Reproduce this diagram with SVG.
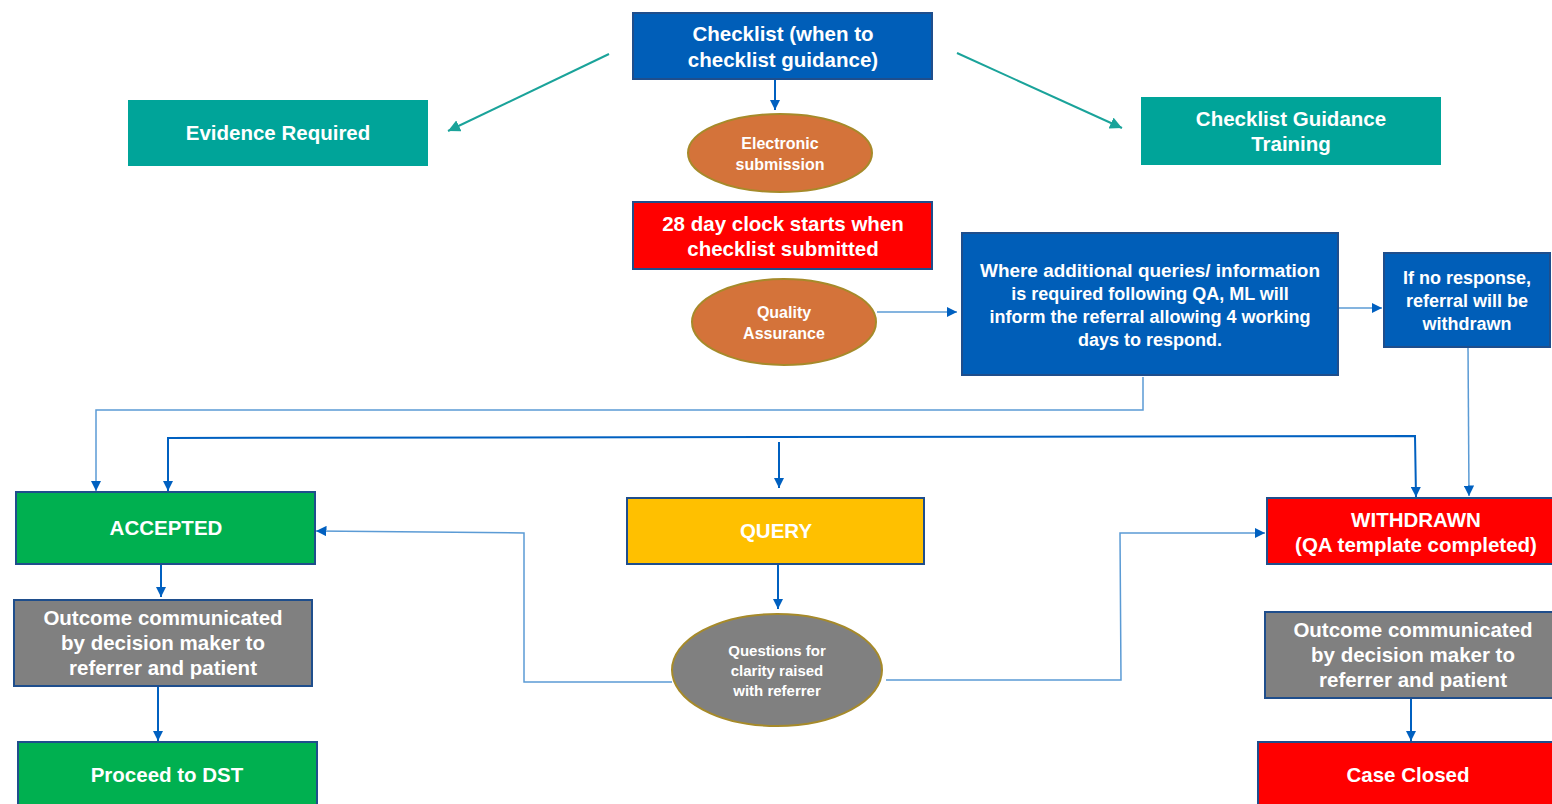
<svg xmlns="http://www.w3.org/2000/svg" width="1552" height="804" viewBox="0 0 1552 804">
<style>
text{font-family:"Liberation Sans",Arial,sans-serif;font-weight:bold;fill:#fff;text-anchor:middle}
.t20{font-size:20.5px}
.t18{font-size:18px}
.t15{font-size:15px}
.t16{font-size:16px}
.box{stroke:#1F4E8C;stroke-width:2}
.blue{fill:#005EB8}
.teal{fill:#00A499}
.red{fill:#FF0000}
.green{fill:#00B050}
.gray{fill:#808080}
.amber{fill:#FFC000}
.ell{stroke:#A68A2A;stroke-width:2}
.orange{fill:#D4733A}
.c{fill:none;stroke:#0060C0;stroke-width:2}
.c1{fill:none;stroke:#5B9BD5;stroke-width:1.5}
.ct{fill:none;stroke:#1AA39A;stroke-width:2}
</style>
<defs>
<marker id="ab" viewBox="0 0 10 10" refX="10" refY="5" markerWidth="5" markerHeight="5" orient="auto-start-reverse" markerUnits="strokeWidth"><path d="M0,0L10,5L0,10z" fill="#0060C0"/></marker>
<marker id="ab1" viewBox="0 0 10 10" refX="10" refY="5" markerWidth="7" markerHeight="7" orient="auto" markerUnits="strokeWidth"><path d="M0,0L10,5L0,10z" fill="#0060C0"/></marker>
<marker id="at" viewBox="0 0 10 10" refX="10" refY="5" markerWidth="6" markerHeight="6" orient="auto" markerUnits="strokeWidth"><path d="M0,0L10,5L0,10z" fill="#1AA39A"/></marker>
</defs>
<g id="connectors">
<line class="ct" x1="609" y1="54" x2="448" y2="131" marker-end="url(#at)"/>
<line class="ct" x1="957" y1="53" x2="1122" y2="128" marker-end="url(#at)"/>
<line class="c" x1="775" y1="79" x2="775" y2="110" marker-end="url(#ab)"/>
<line class="c1" x1="877" y1="312" x2="957" y2="312" marker-end="url(#ab1)"/>
<line class="c1" x1="1338" y1="308" x2="1382" y2="308" marker-end="url(#ab1)"/>
<polyline class="c1" points="1468,347 1469,496" marker-end="url(#ab1)"/>
<polyline class="c1" points="1143,377 1143,410 96,410 96,491" marker-end="url(#ab1)"/>
<polyline class="c" points="168,491 168,438 1415,436 1416,497" marker-start="url(#ab)" marker-end="url(#ab)"/>
<line class="c" x1="779" y1="442" x2="779" y2="488" marker-end="url(#ab)"/>
<line class="c" x1="778" y1="564" x2="778" y2="609" marker-end="url(#ab)"/>
<polyline class="c1" points="672,682 524,682 524,533 316,531" marker-end="url(#ab1)"/>
<polyline class="c1" points="886,680 1121,680 1120,533 1265,533" marker-end="url(#ab1)"/>
<line class="c" x1="161" y1="564" x2="161" y2="597" marker-end="url(#ab)"/>
<line class="c" x1="158" y1="686" x2="158" y2="741" marker-end="url(#ab)"/>
<line class="c" x1="1411" y1="698" x2="1411" y2="741" marker-end="url(#ab)"/>
</g>
<g id="checklist"><rect class="box blue" x="633" y="13" width="299" height="66"/><text class="t20" x="783" y="41">Checklist (when to</text><text class="t20" x="783" y="67">checklist guidance)</text></g>
<g id="evidence"><rect class="teal" x="128" y="100" width="300" height="66"/><text class="t20" x="278" y="140">Evidence Required</text></g>
<g id="guidance"><rect class="teal" x="1141" y="97" width="300" height="68"/><text class="t20" x="1291" y="126">Checklist Guidance</text><text class="t20" x="1291" y="151">Training</text></g>
<g id="electronic"><ellipse class="ell orange" cx="780" cy="153" rx="92" ry="39"/><text class="t16" x="780" y="149">Electronic</text><text class="t16" x="780" y="170">submission</text></g>
<g id="clock"><rect class="box red" x="633" y="202" width="299" height="67"/><text class="t20" x="783" y="231">28 day clock starts when</text><text class="t20" x="783" y="256">checklist submitted</text></g>
<g id="qa"><ellipse class="ell orange" cx="784" cy="322" rx="92" ry="43"/><text class="t16" x="784" y="318">Quality</text><text class="t16" x="784" y="339">Assurance</text></g>
<g id="queries"><rect class="box blue" x="962" y="233" width="376" height="142"/><text class="t18" x="1150" y="277" textLength="340" lengthAdjust="spacingAndGlyphs">Where additional queries/ information</text><text class="t18" x="1150" y="300">is required following QA, ML will</text><text class="t18" x="1150" y="323">inform the referral allowing 4 working</text><text class="t18" x="1150" y="346">days to respond.</text></g>
<g id="noresponse"><rect class="box blue" x="1384" y="253" width="166" height="94"/><text class="t18" x="1467" y="284">If no response,</text><text class="t18" x="1467" y="307">referral will be</text><text class="t18" x="1467" y="330">withdrawn</text></g>
<g id="accepted"><rect class="box green" x="16" y="492" width="299" height="72"/><text class="t20" x="166" y="535">ACCEPTED</text></g>
<g id="query"><rect class="box amber" x="627" y="498" width="297" height="66"/><text class="t20" x="776" y="538">QUERY</text></g>
<g id="withdrawn"><rect class="box red" x="1267" y="498" width="290" height="66"/><text class="t20" x="1416" y="527">WITHDRAWN</text><text class="t20" x="1416" y="552">(QA template completed)</text></g>
<g id="questions"><ellipse class="ell gray" cx="777" cy="670" rx="105" ry="56"/><text class="t15" x="777" y="656">Questions for</text><text class="t15" x="777" y="676">clarity raised</text><text class="t15" x="777" y="696">with referrer</text></g>
<g id="outcome-left"><rect class="box gray" x="14" y="600" width="298" height="86"/><text class="t20" x="163" y="625">Outcome communicated</text><text class="t20" x="163" y="650">by decision maker to</text><text class="t20" x="163" y="675">referrer and patient</text></g>
<g id="dst"><rect class="box green" x="18" y="742" width="299" height="70"/><text class="t20" x="167" y="782">Proceed to DST</text></g>
<g id="outcome-right"><rect class="box gray" x="1265" y="612" width="292" height="86"/><text class="t20" x="1413" y="637">Outcome communicated</text><text class="t20" x="1413" y="662">by decision maker to</text><text class="t20" x="1413" y="687">referrer and patient</text></g>
<g id="closed"><rect class="box red" x="1258" y="742" width="299" height="70"/><text class="t20" x="1408" y="782">Case Closed</text></g>
</svg>
